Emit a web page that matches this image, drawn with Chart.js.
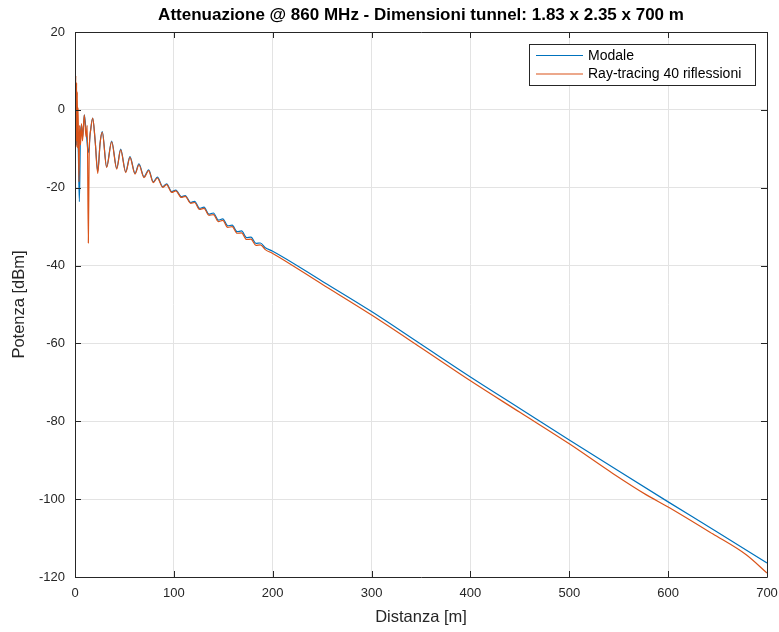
<!DOCTYPE html>
<html>
<head>
<meta charset="utf-8">
<script src="https://cdn.jsdelivr.net/npm/chart.js@4.4.1/dist/chart.umd.min.js"></script>
<style>
    html, body { margin: 0; padding: 0; background: #ffffff; }
    #wrap { width: 779px; height: 632px; }
</style>
</head>
<body>
<div id="wrap"><canvas id="attChart" width="779" height="632"></canvas></div>
<script>
(function(){
    "use strict";

    // Titles and labels
    const chartTitle = 'Attenuazione @ 860 MHz - Dimensioni tunnel: 1.83 x 2.35 x 700 m';
    const xTitle = 'Distanza [m]';
    const yTitle = 'Potenza [dBm]';
    const seriesNames = ['Modale', 'Ray-tracing 40 riflessioni'];

    // Axis ticks
    const xTicks = [0, 100, 200, 300, 400, 500, 600, 700];
    const yTicks = [-120, -100, -80, -60, -40, -20, 0, 20];

    // Modale (distance [m], power [dBm])
    const modaleX = [0, 0.8, 1.6, 2.4, 3.4, 4.4, 5.4, 6.6, 7.8, 9.4, 11.4, 13.5, 15.6, 17.9, 20.4, 23, 25.4, 27.6,
        32, 37.1, 42.2, 46.2, 51.3, 55.6, 60.7, 64.7, 69.8, 74.5, 79.2, 83.3, 88.7, 92.7, 97.8,
        102, 107.5, 111.5, 117, 121, 126, 130.5, 135.5, 140, 145, 149.5, 154.5, 159, 164, 168.5, 173.5, 178, 183, 187.5, 192.5,
        200, 250, 300, 350, 400, 450, 500, 550, 600, 650, 700];
    const modaleY = [-6, -3, -9, -4, -11, -23.6, -8, -4, -7, -1.3, -6, -11, -5.5, -2.1, -8, -15.8, -8.5, -5.6,
        -14.6, -8.0, -15.0, -10.1, -15.9, -12.0, -16.3, -13.9, -17.2, -15.4, -18.5, -17.3, -19.7, -19.0, -21.0,
        -20.6, -22.3, -22.0, -23.8, -23.5, -25.3, -25.0, -26.8, -26.5, -28.3, -28.0, -29.8, -29.6, -31.3, -31.1, -32.8, -32.7, -34.3, -34.2, -35.4,
        -36.3, -44.0, -51.8, -60.2, -68.6, -76.7, -84.8, -92.8, -100.7, -108.5, -116.4];

    // Ray-tracing 40 riflessioni
    const rayX = [0.2, 0.8, 1.2, 1.6, 2.0, 2.3, 2.7, 3.1, 3.5, 4.0, 4.6, 5.6, 6.6, 7.6, 9.4, 11.2, 12.4, 13.5, 14.3, 16, 17.9,
        20.4, 23, 25.4, 27.6, 32, 37.1, 42.2, 46.2, 51.3, 55.6, 60.7, 64.7, 69.8, 74.5, 79.2, 83.3, 88.7, 92.7, 97.8,
        102, 107.5, 111.5, 117, 121, 126, 130.5, 135.5, 140, 145, 149.5, 154.5, 159, 164, 168.5, 173.5, 178, 183, 187.5, 192.5,
        200, 250, 300, 350, 400, 450, 500, 544, 578, 600, 645, 679, 700];
    const rayY = [-6, 8.8, -9.5, 7, -8, 4.6, -9.8, 0.5, -8, -18.5, -4, -9, -3.5, -8, -1.3, -7, -4, -34.2, -12, -5, -2.1,
        -8, -16.3, -8.5, -5.8, -14.8, -8.2, -15.2, -10.3, -16.1, -12.2, -16.5, -14.1, -17.4, -15.6, -18.7, -17.5, -19.9, -19.2, -21.2,
        -20.8, -22.5, -22.2, -24.0, -23.8, -25.6, -25.3, -27.1, -26.9, -28.7, -28.4, -30.2, -30.0, -31.7, -31.6, -33.3, -33.2, -34.8, -34.7, -35.9,
        -36.9, -44.8, -52.7, -61.1, -69.6, -77.7, -85.8, -93.4, -98.9, -102.0, -108.9, -114.3, -119.0];

    const seriesColors = ['#0072BD', '#D95319'];
    const ink = '#262626';
    const fontFamily = '"Liberation Sans", Arial, Helvetica, sans-serif';

    /**
     * Turn two plain arrays into the {x, y} points Chart.js expects.
     * @param {list} xs - distances
     * @param {list} ys - powers
    */
    function toPoints(xs, ys) {
        return xs.map((x, i) => ({ x: x, y: ys[i] }));
    }

    // Box, inner ticks, title and legend drawn the MATLAB way
    const matlabFrame = {
        id: 'matlabFrame',
        afterDatasetsDraw(chart) {
            const ctx = chart.ctx;
            const a = chart.chartArea;
            const xs = chart.scales.x;
            const ys = chart.scales.y;
            const tickLen = 6;
            ctx.save();
            ctx.strokeStyle = ink;
            ctx.lineWidth = 1;
            ctx.beginPath();
            ctx.rect(Math.round(a.left) + 0.5, Math.round(a.top) + 0.5,
                Math.round(a.right - a.left), Math.round(a.bottom - a.top));
            xTicks.forEach(v => {
                const px = Math.round(xs.getPixelForValue(v)) + 0.5;
                ctx.moveTo(px, a.bottom); ctx.lineTo(px, a.bottom - tickLen);
                ctx.moveTo(px, a.top); ctx.lineTo(px, a.top + tickLen);
            });
            yTicks.forEach(v => {
                const py = Math.round(ys.getPixelForValue(v)) + 0.5;
                ctx.moveTo(a.left, py); ctx.lineTo(a.left + tickLen, py);
                ctx.moveTo(a.right, py); ctx.lineTo(a.right - tickLen, py);
            });
            ctx.stroke();
            ctx.restore();
        },
        afterDraw(chart) {
            const ctx = chart.ctx;
            const a = chart.chartArea;
            ctx.save();

            // title, centred over the plot area
            ctx.fillStyle = '#000000';
            ctx.font = 'bold 17px ' + fontFamily;
            ctx.textAlign = 'center';
            ctx.textBaseline = 'middle';
            ctx.fillText(chartTitle, (a.left + a.right) / 2, 15);

            // legend box in the top right corner
            const boxRight = a.right - 12;
            const boxLeft = boxRight - 226;
            const boxTop = a.top + 12;
            const boxH = 41;
            ctx.fillStyle = '#ffffff';
            ctx.fillRect(boxLeft, boxTop, boxRight - boxLeft, boxH);
            ctx.strokeStyle = ink;
            ctx.lineWidth = 1;
            ctx.strokeRect(Math.round(boxLeft) + 0.5, Math.round(boxTop) + 0.5, Math.round(boxRight - boxLeft), boxH);

            ctx.font = '14px ' + fontFamily;
            ctx.textAlign = 'left';
            chart.data.datasets.forEach((ds, i) => {
                const rowY = boxTop + 11.5 + i * 18.5;
                ctx.strokeStyle = ds.borderColor;
                ctx.lineWidth = 1.2;
                ctx.beginPath();
                ctx.moveTo(boxLeft + 7, rowY);
                ctx.lineTo(boxLeft + 54, rowY);
                ctx.stroke();
                ctx.fillStyle = '#000000';
                ctx.fillText(ds.label, boxLeft + 59, rowY + 0.5);
            });
            ctx.restore();
        }
    };

    function createChart() {
        const ctx = document.getElementById('attChart').getContext('2d');
        return new Chart(ctx, {
            type: 'line',
            data: {
                datasets: [{
                    label: seriesNames[0],
                    data: toPoints(modaleX, modaleY),
                    borderColor: seriesColors[0],
                    backgroundColor: seriesColors[0],
                    borderWidth: 1.2,
                    pointRadius: 0,
                    fill: false,
                    cubicInterpolationMode: 'monotone',
                    order: 1
                }, {
                    label: seriesNames[1],
                    data: toPoints(rayX, rayY),
                    borderColor: seriesColors[1],
                    backgroundColor: seriesColors[1],
                    borderWidth: 1.2,
                    pointRadius: 0,
                    fill: false,
                    cubicInterpolationMode: 'monotone',
                    order: 0
                }]
            },
            options: {
                responsive: false,
                animation: false,
                events: [],
                layout: { padding: { top: 32, right: 12, left: 0, bottom: 0 } },
                plugins: {
                    legend: { display: false },
                    title: { display: false },
                    tooltip: { enabled: false }
                },
                scales: {
                    x: {
                        type: 'linear',
                        min: 0,
                        max: 700,
                        afterBuildTicks: scale => { scale.ticks = xTicks.map(v => ({ value: v })); },
                        afterFit: scale => {
                            scale.height = 55;
                            scale.paddingLeft = 0;
                            scale.paddingRight = 0;
                        },
                        grid: { color: '#e3e3e3', drawTicks: false },
                        border: { display: false },
                        ticks: {
                            color: ink,
                            padding: 9,
                            font: { family: fontFamily, size: 13 }
                        },
                        title: {
                            display: true,
                            text: xTitle,
                            color: ink,
                            padding: { top: 0, bottom: 5 },
                            font: { family: fontFamily, size: 16.5 }
                        }
                    },
                    y: {
                        type: 'linear',
                        min: -120,
                        max: 20,
                        afterBuildTicks: scale => { scale.ticks = yTicks.map(v => ({ value: v })); },
                        afterFit: scale => { scale.width = 75; },
                        grid: { color: '#e3e3e3', drawTicks: false },
                        border: { display: false },
                        ticks: {
                            color: ink,
                            padding: 10,
                            font: { family: fontFamily, size: 13 }
                        },
                        title: {
                            display: true,
                            text: yTitle,
                            color: ink,
                            padding: { top: 10, bottom: 0 },
                            font: { family: fontFamily, size: 16.5 }
                        }
                    }
                }
            },
            plugins: [matlabFrame]
        });
    }

    createChart();

})();
</script>
</body>
</html>
